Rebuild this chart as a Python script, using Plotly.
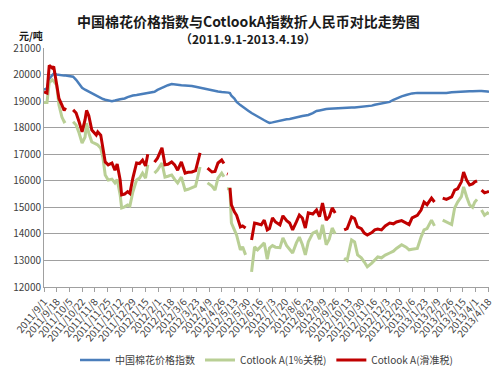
import plotly.graph_objects as go
from datetime import date, timedelta

dates = [
    "2011-09-01", "2011-09-05", "2011-09-08", "2011-09-12", "2011-09-14", "2011-09-18", "2011-09-21",
    "2011-09-25", "2011-09-28", "2011-09-30", "2011-10-06", "2011-10-10", "2011-10-14", "2011-10-18",
    "2011-10-22", "2011-10-26", "2011-10-28", "2011-10-31", "2011-11-04", "2011-11-10", "2011-11-12",
    "2011-11-16", "2011-11-19", "2011-11-22", "2011-11-26", "2011-12-01", "2011-12-05", "2011-12-08",
    "2011-12-12", "2011-12-14", "2011-12-18", "2011-12-22", "2011-12-25", "2011-12-29", "2012-01-03",
    "2012-01-07", "2012-01-11", "2012-01-15", "2012-01-18", "2012-01-22", "2012-01-27", "2012-01-31",
    "2012-02-06", "2012-02-10", "2012-02-14", "2012-02-19", "2012-02-23", "2012-02-27", "2012-03-03",
    "2012-03-08", "2012-03-12", "2012-03-17", "2012-03-22", "2012-03-28", "2012-04-02", "2012-04-07",
    "2012-04-13", "2012-04-17", "2012-04-21", "2012-04-26", "2012-04-29", "2012-05-01", "2012-05-03",
    "2012-05-04", "2012-05-05", "2012-05-07", "2012-05-09", "2012-05-13", "2012-05-16", "2012-05-21",
    "2012-05-24", "2012-05-28", "2012-06-01", "2012-06-05", "2012-06-09", "2012-06-13", "2012-06-18",
    "2012-06-22", "2012-06-26", "2012-06-29", "2012-07-03", "2012-07-07", "2012-07-13", "2012-07-17",
    "2012-07-22", "2012-07-26", "2012-07-30", "2012-08-04", "2012-08-08", "2012-08-12", "2012-08-16",
    "2012-08-20", "2012-08-26", "2012-08-31", "2012-09-04", "2012-09-08", "2012-09-13", "2012-09-17",
    "2012-09-21", "2012-09-25", "2012-10-01", "2012-10-07", "2012-10-11", "2012-10-17", "2012-10-21",
    "2012-10-25", "2012-10-30", "2012-11-03", "2012-11-07", "2012-11-13", "2012-11-17", "2012-11-21",
    "2012-11-26", "2012-12-01", "2012-12-07", "2012-12-12", "2012-12-16", "2012-12-23", "2012-12-29",
    "2013-01-02", "2013-01-06", "2013-01-13", "2013-01-18", "2013-01-22", "2013-01-26", "2013-02-01",
    "2013-02-05", "2013-02-10", "2013-02-16", "2013-02-21", "2013-02-28", "2013-03-04", "2013-03-08",
    "2013-03-13", "2013-03-16", "2013-03-20", "2013-03-24", "2013-03-28", "2013-03-31", "2013-04-03",
    "2013-04-06", "2013-04-09", "2013-04-13", "2013-04-17", "2013-04-19",
]

china_index = [
    19430, 19480, 19850, 20000, 20030, 20000, 19980,
    19970, 19960, 19960, 19950, 19920, 19800, 19650,
    19500, 19430, 19400, 19350, 19280, 19200, 19170,
    19120, 19080, 19050, 19020, 19000, 19020, 19050,
    19070, 19080, 19100, 19150, 19180, 19210, 19230,
    19250, 19270, 19290, 19300, 19310, 19350, 19420,
    19500, 19560, 19600, 19640, 19620, 19610, 19600,
    19590, 19590, 19570, 19540, 19500, 19470, 19440,
    19410, 19380, 19360, 19340, 19340, 19340, 19335,
    19330, 19320, 19300, 19200, 19100, 18970, 18850,
    18780, 18700, 18630, 18550, 18480, 18420, 18350,
    18280, 18220, 18180, 18200, 18230, 18260, 18290,
    18320, 18330, 18360, 18400, 18420, 18440, 18460,
    18480, 18550, 18630, 18650, 18680, 18700, 18710,
    18720, 18730, 18740, 18740, 18750, 18760, 18760,
    18770, 18780, 18790, 18800, 18830, 18860, 18880,
    18910, 18950, 18970, 19050, 19100, 19180, 19230,
    19260, 19290, 19310, 19310, 19320, 19310, 19300,
    19300, 19300, 19300, 19310, 19330, 19340, 19350,
    19360, 19360, 19360, 19370, 19370, 19380, 19380,
    19380, 19380, 19380, 19360, 19350,
]

cotlook_1pct = [
    18950, 18950, 19700, 19800, 19750, 19600, 18850,
    18400, 18220, 18250, None, 18220, 18100, 17800,
    17420, 17650, 18170, 17800, 17460, 17380, 17350,
    17230, 16860, 16220, 16030, 16060, 15920, 16050,
    15470, 14980, 15020, 15090, 15050, 15580, 16030,
    16100, 16290, 16100, 16600, None, 16290, 16400,
    16670, 16140, 16170, 16220, 16050, 15920, 16140,
    15650, 15680, 15730, 15800, 16520, None, 15920,
    15800, 15650, 16100, 16290, 16150, None, 15700,
    15710, 15700, 15690, 14410, 14150, 13950, 13400,
    13510, 13210, None, 12570, 13510, 13400, 13560,
    13660, 13050, 13470, 13560, 13500, 13480, 13850,
    13560, 13400, 13280, 13660, 13880, 13600, 13210,
    13700, 14030, 14100, 13800, 14340, 13590, 13800,
    14220, 14000, None, 13090, 13000, 13770, 13700,
    13210, 13100, 12940, 12760, 12900, 13020, 13130,
    13100, 13200, 13280, 13350, 13450, 13590, 13500,
    13400, 13420, 13450, 13880, 14150, 14200, 14520,
    14300, None, 14520, 14450, 14350, 14980, 15200,
    15400, 15770, 15400, 15090, 15000, 15200, 15300,
    None, 14900, 14700, 14790, 14750,
]

cotlook_sliding = [
    19350, 19300, 20350, 20250, 20300, 19550, 19100,
    18850, 18650, 18750, None, 18670, 18550, 18220,
    17840, 18300, 18650, 18450, 17910, 17720, 17840,
    17720, 17270, 16710, 16600, 16670, 16400, 16630,
    16030, 15470, 15500, 15590, 15520, 16100, 16670,
    16650, 16780, 16560, 17000, None, 16700, 16850,
    17240, 16600, 16620, 16710, 16600, 16400, 16710,
    16290, 16320, 16330, 16380, 17050, None, 16480,
    16330, 16350, 16670, 16780, 16650, None, 16260,
    16250, None, 15730, 15090, 14830, 14700, 14260,
    14300, 14220, None, 13770, 14410, 14380, 14340,
    14520, 14150, 14200, 14600, 14450, 14340, 14680,
    14500, 14410, 14150, 14450, 14710, 14600, 14220,
    14790, 14750, 14900, 14650, 15160, 14520, 14650,
    14980, 14790, None, 14150, 14200, 14640, 14580,
    14260, 14200, 14030, 13960, 14050, 14150, 14180,
    14150, 14300, 14410, 14380, 14450, 14500, 14410,
    14350, 14600, 14700, 14900, 15200, 15100, 15350,
    15200, None, 15350, 15300, 15390, 15650, 15700,
    15960, 16330, 16030, 15840, 15880, 15960, 16000,
    None, 15650, 15550, 15580, 15600,
]

# x-axis labels every 17 days from 2011/9/1 to 2013/4/18
start = date(2011, 9, 1)
tick_dates = [start + timedelta(days=17 * i) for i in range(36)]
tick_vals = [d.isoformat() for d in tick_dates]
tick_text = [f"{d.year}/{d.month}/{d.day}" for d in tick_dates]

y_ticks = list(range(12000, 21001, 1000))

series_names = ["中国棉花价格指数", "Cotlook A(1%关税)", "Cotlook A(滑准税)"]
colors = ["#4A7EBB", "#B9CF95", "#C00000"]

fig = go.Figure()
fig.add_trace(go.Scatter(x=dates, y=china_index, name=series_names[0], mode="lines",
                         line=dict(color=colors[0], width=2.5), connectgaps=False))
fig.add_trace(go.Scatter(x=dates, y=cotlook_1pct, name=series_names[1], mode="lines",
                         line=dict(color=colors[1], width=3), connectgaps=False))
fig.add_trace(go.Scatter(x=dates, y=cotlook_sliding, name=series_names[2], mode="lines",
                         line=dict(color=colors[2], width=3), connectgaps=False))

font_cjk = "Noto Sans CJK SC, Noto Sans, sans-serif"

fig.update_layout(
    width=500, height=378,
    margin=dict(l=44, r=11, t=48, b=91, autoexpand=False),
    paper_bgcolor="white", plot_bgcolor="white",
    font=dict(family=font_cjk, color="#404040", size=10),
    showlegend=True,
    legend=dict(orientation="h", x=0.5, xanchor="center", y=-0.305, yanchor="middle",
                font=dict(size=10, color="#404040"), itemwidth=30, tracegroupgap=0),
    xaxis=dict(type="date", range=["2011-09-01", "2013-04-19"],
               tickmode="array", tickvals=tick_vals, ticktext=tick_text,
               tickangle=-50, tickfont=dict(size=10, color="#404040"),
               showgrid=False, showline=True, linecolor="#A0A0A0", linewidth=1,
               ticks="outside", ticklen=4, tickcolor="#A0A0A0", zeroline=False,
               automargin=False),
    yaxis=dict(range=[12000, 21000], tickmode="array", tickvals=y_ticks,
               ticktext=[str(v) for v in y_ticks],
               tickfont=dict(size=10, color="#404040"),
               showgrid=True, gridcolor="#A0A0A0", gridwidth=1,
               showline=True, linecolor="#A0A0A0", linewidth=1,
               ticks="", zeroline=False, automargin=False),
    annotations=[
        dict(text="<b>中国棉花价格指数与CotlookA指数折人民币对比走势图</b>", x=248, y=9,
             xref="paper", yref="paper", showarrow=False, font=dict(size=14, color="#1a1a1a")),
        dict(text="<b>（2011.9.1-2013.4.19）</b>", x=248, y=28,
             xref="paper", yref="paper", showarrow=False, font=dict(size=12, color="#1a1a1a")),
        dict(text="<b>元/吨</b>", x=18, y=27, xref="paper", yref="paper",
             showarrow=False, font=dict(size=10, color="#1a1a1a"), borderpad=0),
    ],
)

# convert pixel-positioned annotations to paper coords
pw, ph = 500 - 44 - 11, 378 - 48 - 91
anns = []
for a in fig.layout.annotations:
    px, py = a.x, a.y
    a.x = (px - 44) / pw
    a.y = 1 - (py - 48) / ph
    anns.append(a)
fig.layout.annotations = anns

fig.write_html("out.html")
